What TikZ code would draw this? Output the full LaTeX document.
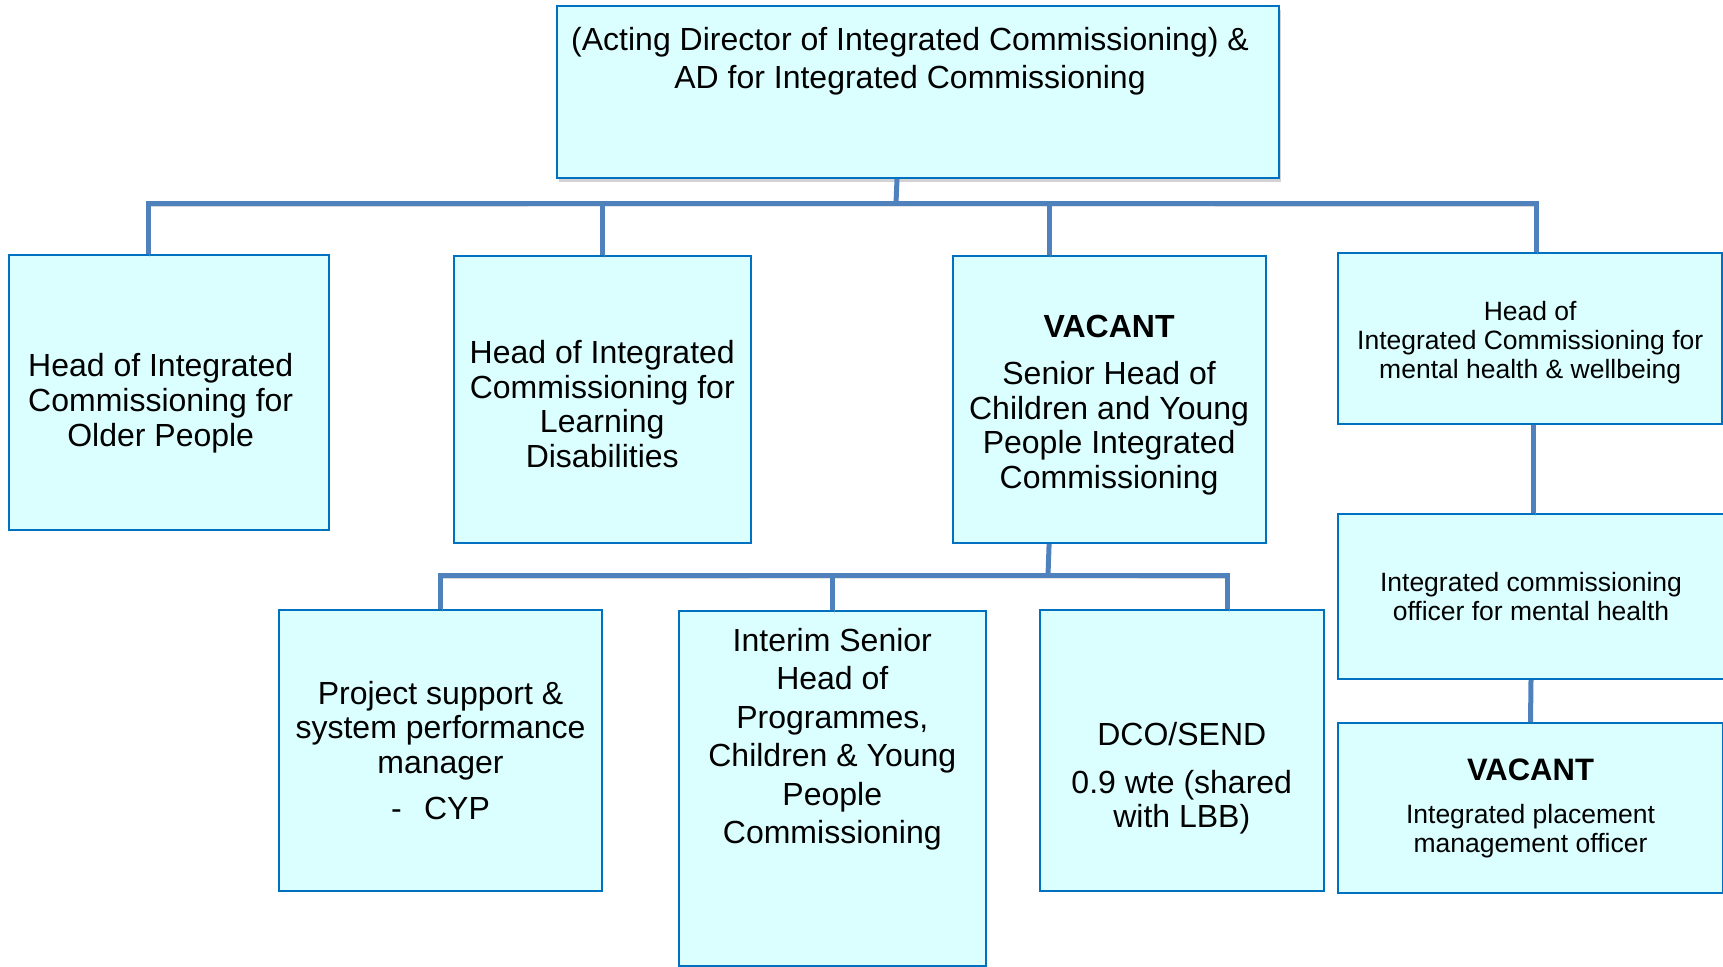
\documentclass[tikz,border=0pt]{standalone}
\usepackage{fontspec}
\setmainfont{Liberation Sans}
\usepackage{tikz}
\usetikzlibrary{shadows}

\definecolor{postfill}{RGB}{219,255,255}
\definecolor{postline}{RGB}{0,112,192}
\definecolor{wireblue}{RGB}{79,129,189}

\newcommand{\txtbig}{\fontsize{32}{34.6}\selectfont}
\newcommand{\txtwide}{\fontsize{32}{38.5}\selectfont}
\newcommand{\txtsmall}{\fontsize{26.5}{29}\selectfont}

\begin{document}
\begin{tikzpicture}[x=1pt,y=-1pt,
  post/.style={draw=postline, line width=2pt, fill=postfill, inner sep=0pt, anchor=north west, align=center},
  wire/.style={draw=wireblue, line width=5pt,
    preaction={draw=black!35, opacity=0.45, transform canvas={xshift=1.5pt,yshift=-3pt}}}]
\useasboundingbox (0,0) rectangle (1723,966);
\clip (0,0) rectangle (1723,966);
\tikzstyle{every node}+=[font=\txtbig, align=center]
% boxes
\node[post, minimum width=722pt, minimum height=171.5pt,
  drop shadow={shadow xshift=2pt, shadow yshift=-4pt, opacity=0.35}] (acting) at (556,5.5) {};
\node[post, minimum width=320pt, minimum height=274.6pt] (older) at (7.7,254) {};
\node[post, minimum width=296.5pt, minimum height=287pt] (learn) at (453,255) {};
\node[post, minimum width=313pt, minimum height=287pt] (cyp) at (951.6,255) {};
\node[post, minimum width=383.6pt, minimum height=171.4pt] (mental) at (1337.4,251.6) {};
\node[post, minimum width=386pt, minimum height=165pt, font=\txtsmall] (officer) at (1337,513)
  {Integrated commissioning\\officer for mental health};
\node[post, minimum width=385pt, minimum height=170pt, font=\txtsmall] (place) at (1337,722)
  {{\fontsize{31}{31}\bfseries VACANT}\\[14pt]Integrated placement\\management officer};
\node[post, minimum width=323pt, minimum height=281pt] (projsup) at (278,609)
  {Project support \&\\system performance\\manager\\[12pt]-\hspace{0.7em}CYP};
\node[post, minimum width=306.6pt, minimum height=355pt] (interim) at (678,610) {};
\node[post, minimum width=284.5pt, minimum height=281pt] (dco) at (1038.5,609) {};
% texts
\node[font=\txtwide] (actingtxt) at ([xshift=-8pt,yshift=-55.5pt]acting.north)
  {(Acting Director of Integrated Commissioning) \&\\AD for Integrated Commissioning};
\node (oldertxt) at ([xshift=-8pt,yshift=-11pt]older.center)
  {Head of Integrated\\Commissioning for\\Older People};
\node (learntxt) at ([yshift=-4.5pt]learn.center)
  {Head of Integrated\\Commissioning for\\Learning\\Disabilities};
\node (cyptxt) at ([yshift=-5.5pt]cyp.center)
  {{\bfseries VACANT}\\[13pt]Senior Head of\\Children and Young\\People Integrated\\Commissioning};
\node[font=\txtsmall] (mentaltxt) at ([yshift=-4.5pt]mental.center)
  {Head of\\Integrated Commissioning for\\mental health \& wellbeing};
\node[font=\txtwide] (interimtxt) at ([yshift=-129pt]interim.north)
  {Interim Senior\\Head of\\Programmes,\\Children \& Young\\People\\Commissioning};
\node (dcotxt) at ([yshift=-28pt]dco.center)
  {DCO/SEND\\[13pt]0.9 wte (shared\\with LBB)};
% connectors
\coordinate (bus) at (896,203);
\coordinate (bus2) at (1048,575);
\draw[wire] ([xshift=-21pt]acting.south) -- (bus);
\draw[wire] ([xshift=-20.6pt]older.north) |- (bus) -| ([xshift=5.8pt]mental.north);
\draw[wire] (learn.north) -- (learn.north |- bus);
\draw[wire] ([xshift=-60pt]cyp.north) -- ([xshift=-60pt]cyp.north |- bus);
\draw[wire] ([xshift=-60pt]cyp.south) -- (bus2);
\draw[wire] (projsup.north) |- (bus2) -| ([xshift=45.7pt]dco.north);
\draw[wire] (interim.north) -- (interim.north |- bus2);
\draw[wire] ([xshift=3pt]mental.south) -- ([xshift=3pt]mental.south |- officer.north);
\draw[wire] (officer.south) -- (place.north);
\end{tikzpicture}
\end{document}
